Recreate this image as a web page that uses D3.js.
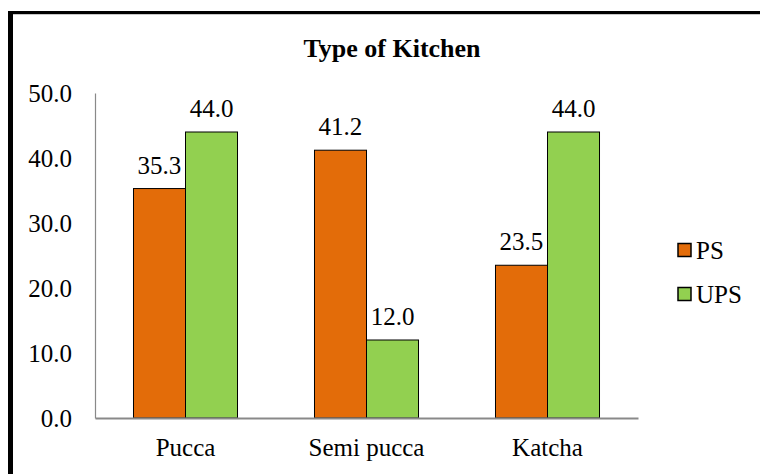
<!DOCTYPE html>
<html>
<head>
<meta charset="utf-8">
<script src="https://cdn.jsdelivr.net/npm/d3@7"></script>
<style>
  html, body { margin: 0; padding: 0; background: #fff; }
  svg { display: block; }
</style>
</head>
<body>
<div id="chart"></div>
<script>
// data
const categories = ['Pucca', 'Semi pucca', 'Katcha'];
const seriesNames = ['PS', 'UPS'];
const psValues = [35.3, 41.2, 23.5];
const upsValues = [44.0, 12.0, 44.0];
const yTicks = [0, 10, 20, 30, 40, 50];
const colors = { PS: '#E36C09', UPS: '#92D050' };

const W = 760, H = 474;
const font = '"Liberation Serif", "Times New Roman", serif';
const fs = 25;

const svg = d3.select('#chart').append('svg')
  .attr('width', W)
  .attr('height', H)
  .attr('viewBox', [0, 0, W, H])
  .style('font-family', font);

// frame (top and left edges show, the rest is cut off)
svg.append('line').attr('x1', 8).attr('x2', W).attr('y1', 12.5).attr('y2', 12.5)
  .attr('stroke', '#000').attr('stroke-width', 3);
svg.append('line').attr('x1', 10.5).attr('x2', 10.5).attr('y1', 11).attr('y2', H)
  .attr('stroke', '#000').attr('stroke-width', 5);
svg.append('line').attr('x1', 13).attr('x2', W).attr('y1', 14.5).attr('y2', 14.5)
  .attr('stroke', '#c8c8c8').attr('stroke-width', 1);

const m = { left: 95, right: 638, top: 93, bottom: 418 };

const x0 = d3.scaleBand().domain(categories).range([m.left, m.right]).padding(0);
// two bars of ~52px centred in each 181px slot
const x1 = d3.scaleBand().domain(seriesNames).range([0, x0.bandwidth()])
  .paddingInner(0).paddingOuter(0.74);
const y = d3.scaleLinear().domain([0, 50]).range([m.bottom, m.top]);

// title
svg.append('text')
  .attr('x', 392).attr('y', 57)
  .attr('text-anchor', 'middle')
  .attr('font-size', 26).attr('font-weight', 'bold')
  .text('Type of Kitchen');

// y axis
const yAxis = svg.append('g')
  .attr('transform', `translate(${m.left},0)`)
  .call(d3.axisLeft(y).tickValues(yTicks).tickSize(0).tickPadding(23).tickFormat(d3.format('.1f')));
yAxis.select('.domain').attr('stroke', '#898989').attr('stroke-width', 1.2);
yAxis.selectAll('text').attr('font-size', fs).attr('font-family', font).attr('fill', '#000');

// bars
const rows = categories.map((c, i) => ({ cat: c, PS: psValues[i], UPS: upsValues[i] }));
const grp = svg.append('g').selectAll('g').data(rows).join('g')
  .attr('transform', d => `translate(${x0(d.cat)},0)`);

grp.selectAll('rect')
  .data(d => seriesNames.map(k => ({ key: k, value: d[k] })))
  .join('rect')
    .attr('x', d => x1(d.key))
    .attr('y', d => y(d.value))
    .attr('width', x1.bandwidth())
    .attr('height', d => y(0) - y(d.value))
    .attr('fill', d => colors[d.key])
    .attr('stroke', '#000')
    .attr('stroke-width', 1);

grp.selectAll('text.val')
  .data(d => seriesNames.map(k => ({ key: k, value: d[k] })))
  .join('text')
    .attr('class', 'val')
    .attr('x', d => x1(d.key) + x1.bandwidth() / 2)
    .attr('y', d => y(d.value) - 15)
    .attr('text-anchor', 'middle')
    .attr('font-size', fs)
    .text(d => d.value.toFixed(1));

// x axis
const xAxis = svg.append('g')
  .attr('transform', `translate(0,${m.bottom})`)
  .call(d3.axisBottom(x0).tickSize(0).tickPadding(20));
xAxis.select('.domain').attr('stroke', '#898989').attr('stroke-width', 2);
xAxis.selectAll('text').attr('font-size', fs).attr('font-family', font).attr('fill', '#000');

// legend
const legend = svg.append('g').selectAll('g').data(seriesNames).join('g')
  .attr('transform', (d, i) => `translate(678,${250 + i * 44})`);
legend.append('rect')
  .attr('x', 0).attr('y', -6.5)
  .attr('width', 13).attr('height', 13)
  .attr('fill', d => colors[d])
  .attr('stroke', '#000').attr('stroke-width', 1.5);
legend.append('text')
  .attr('x', 18).attr('y', 8.5)
  .attr('font-size', fs)
  .text(d => d);
</script>
</body>
</html>
